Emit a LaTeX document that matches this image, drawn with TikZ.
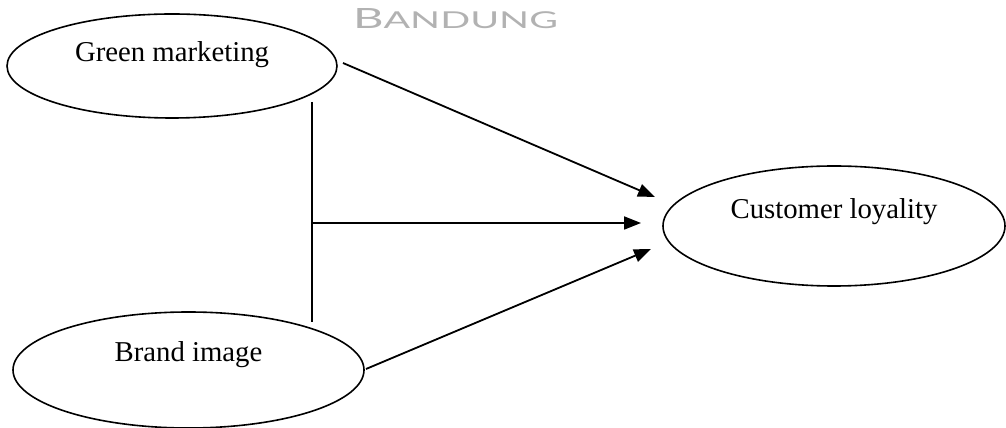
\documentclass[tikz,border=0pt]{standalone}
\usepackage{fontspec}
\setmainfont{Liberation Serif}
\newfontfamily\wmfont{Lato}
\usetikzlibrary{shapes.geometric,arrows.meta}
\begin{document}
\begin{tikzpicture}[x=1pt,y=1pt,
  oval/.style={draw=black,line width=1.6pt,ellipse,inner sep=0pt},
  lbl/.style={font=\fontsize{28.75}{34}\selectfont},
  arr/.style={line width=1.8pt,-{Triangle[length=17pt,width=13pt]}},
  plain/.style={line width=1.8pt}]
\useasboundingbox (0,0) rectangle (1006,428);
% watermark
\node[text=black!30,inner sep=0pt] (wm) at (455.5,409) {\resizebox{205pt}{20pt}{\wmfont{\fontsize{30}{30}\selectfont B}{\fontsize{25}{25}\selectfont ANDUNG}}};
% ellipses
\node[oval,minimum width=330pt,minimum height=104pt,
      label={[lbl,yshift=11pt]center:Green marketing}] (gm) at (172,362) {};
\node[oval,minimum width=351pt,minimum height=116pt,
      label={[lbl,yshift=15pt]center:Brand image}] (bi) at (188.5,58) {};
\node[oval,minimum width=342pt,minimum height=120pt,
      label={[lbl,yshift=14pt]center:Customer loyality}] (cl) at (834,202) {};
% connector ends
\coordinate (a1s) at (343,365);
\coordinate (a1e) at (655,231);
\coordinate (vt) at (312,326);
\coordinate (vb) at (312,106);
\coordinate (a2s) at (312,205);
\coordinate (a2e) at (641,205);
\coordinate (a3s) at (366,59);
\coordinate (a3e) at (651,179);
\draw[arr] (a1s) -- (a1e);
\draw[plain] (vt) -- (vb);
\draw[arr] (a2s) -- (a2e);
\draw[arr] (a3s) -- (a3e);
\end{tikzpicture}
\end{document}
